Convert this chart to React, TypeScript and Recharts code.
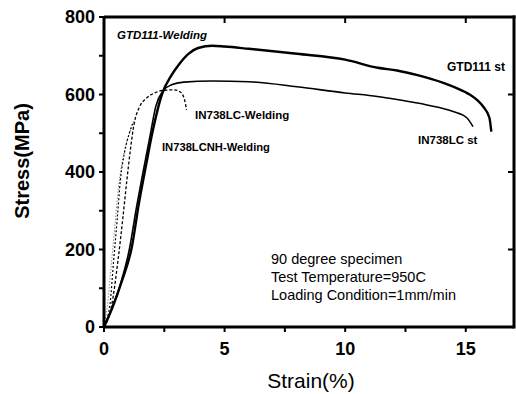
import React from 'react';
import { LineChart, Line, XAxis, YAxis } from 'recharts';

// strain (%) / stress (MPa)
const gtdStStrain = [0, 0.35, 0.75, 1.15, 1.45, 1.75, 2.0, 2.4, 2.8, 3.1, 3.5, 3.9, 4.5, 5, 6, 8, 10, 11.35, 12.15, 13, 14.07, 14.6, 15.16, 15.5, 15.72, 15.98, 16.06];
const gtdStStress = [0, 50, 120, 205, 320, 420, 500, 600, 650, 677, 705, 720, 726, 724, 718, 705, 690, 669, 662, 650, 630, 617, 600, 584, 569, 540, 504];

const inStStrain = [0, 0.3, 0.7, 1.05, 1.35, 1.65, 1.9, 2.15, 2.45, 2.8, 3.3, 4.5, 6, 8, 10, 11.33, 12.15, 13.39, 14.48, 15.04, 15.3];
const inStStress = [0, 45, 115, 200, 310, 410, 490, 570, 610, 625, 632, 635, 633, 620, 604, 595, 587, 573, 556, 540, 517];

const inWeldStrain = [0, 0.3, 0.58, 0.78, 0.95, 1.1, 1.25, 1.45, 1.75, 2.1, 2.5, 2.9, 3.15, 3.3, 3.38, 3.42];
const inWeldStress = [0, 50, 172, 280, 380, 460, 525, 565, 590, 604, 611, 612, 607, 594, 575, 560];

const nhWeldStrain = [0, 0.25, 0.4, 0.55, 0.68, 0.85, 1.05, 1.22];
const nhWeldStress = [0, 60, 172, 280, 379, 450, 500, 530];

const gtdWeldStrain = [0, 0.15, 0.3, 0.45, 0.6, 0.8, 1.0, 1.15];
const gtdWeldStress = [0, 60, 160, 260, 360, 440, 490, 515];

const xTicks = [0, 2.5, 5, 7.5, 10, 12.5, 15];
const yTicks = [0, 100, 200, 300, 400, 500, 600, 700, 800];
const majorX = [0, 5, 10, 15];
const majorY = [0, 200, 400, 600, 800];

const W = 516;
const H = 394;
const M = { top: 17, right: 2, bottom: 37, left: 44 };
const Y_AXIS_W = 60;
const X_AXIS_H = 30;
const PLOT_L = M.left + Y_AXIS_W;
const PLOT_T = M.top;
const PLOT_R = W - M.right;
const PLOT_B = H - M.bottom - X_AXIS_H;

const toPts = (xs: number[], ys: number[]) => xs.map((x, i) => ({ x, y: ys[i] }));

const font = 'Liberation Sans, Arial';

// bottom tick label, plus the matching inward tick on the top frame
const XTick = (props: any) => {
  const { x, y, payload } = props;
  const major = majorX.includes(payload.value);
  return (
    <g>
      {major && payload.value > 0 && (
        <rect x={x - 1} y={PLOT_T} width={2} height={6} fill="#000" />
      )}
      {major && (
        <text x={x} y={y} dy="0.71em" textAnchor="middle" fontFamily={font} fontSize={18} fontWeight="bold" fill="#000">
          {payload.value}
        </text>
      )}
    </g>
  );
};

// left tick label, plus the matching inward tick on the right frame
const YTick = (props: any) => {
  const { x, y, payload } = props;
  const major = majorY.includes(payload.value);
  return (
    <g>
      {major && payload.value > 0 && payload.value < 800 && (
        <rect x={PLOT_R - 6} y={y - 1} width={6} height={2} fill="#000" />
      )}
      {major && (
        <text x={x} y={y} dy="0.355em" textAnchor="end" fontFamily={font} fontSize={18} fontWeight="bold" fill="#000">
          {payload.value}
        </text>
      )}
    </g>
  );
};

export default function App() {
  return (
    <div style={{ position: 'absolute', left: 0, top: 0, width: W, height: H, background: '#fff' }}>
      <div style={{ position: 'absolute', left: 0, top: 0 }}>
        <LineChart width={W} height={H} margin={M}>
          <XAxis
            type="number"
            dataKey="x"
            domain={[0, 17]}
            ticks={xTicks}
            interval={0}
            height={X_AXIS_H}
            allowDataOverflow
            axisLine={{ stroke: '#000', strokeWidth: 3 }}
            tickLine={{ stroke: '#000', strokeWidth: 2 }}
            tickSize={5}
            tickMargin={10}
            tick={<XTick />}
          />
          <YAxis
            type="number"
            domain={[0, 800]}
            ticks={yTicks}
            interval={0}
            width={Y_AXIS_W}
            axisLine={{ stroke: '#000', strokeWidth: 3 }}
            tickLine={{ stroke: '#000', strokeWidth: 2 }}
            tickSize={5}
            tickMargin={4}
            tick={<YTick />}
          />
          <Line data={toPts(gtdWeldStrain, gtdWeldStress)} dataKey="y" type="monotone"
            stroke="#555" strokeWidth={1} strokeDasharray="1 2" dot={false} isAnimationActive={false} />
          <Line data={toPts(nhWeldStrain, nhWeldStress)} dataKey="y" type="monotone"
            stroke="#000" strokeWidth={1.2} strokeDasharray="2 2" dot={false} isAnimationActive={false} />
          <Line data={toPts(inWeldStrain, inWeldStress)} dataKey="y" type="monotone"
            stroke="#000" strokeWidth={1.3} strokeDasharray="3 2" dot={false} isAnimationActive={false} />
          <Line data={toPts(inStStrain, inStStress)} dataKey="y" type="monotone"
            stroke="#000" strokeWidth={1.6} dot={false} isAnimationActive={false} />
          <Line data={toPts(gtdStStrain, gtdStStress)} dataKey="y" type="monotone"
            stroke="#000" strokeWidth={2.4} dot={false} isAnimationActive={false} />
        </LineChart>
      </div>
      <svg width={W} height={H} style={{ position: 'absolute', left: 0, top: 0, pointerEvents: 'none' }}
        fontFamily={font}>
        {/* top and right sides of the frame */}
        <rect x={PLOT_L} y={PLOT_T - 1.5} width={PLOT_R - PLOT_L + 1.5} height={3} fill="#000" />
        <rect x={PLOT_R - 1.5} y={PLOT_T - 1.5} width={3} height={PLOT_B - PLOT_T + 3} fill="#000" />
        <text x={117} y={39} fontSize={11.5} fontWeight="bold" fontStyle="italic">GTD111-Welding</text>
        <text x={195} y={119} fontSize={11.5} fontWeight="bold">IN738LC-Welding</text>
        <text x={162} y={151} fontSize={11.2} fontWeight="bold">IN738LCNH-Welding</text>
        <text x={447} y={71} fontSize={12} fontWeight="bold">GTD111 st</text>
        <text x={418} y={144} fontSize={11.5} fontWeight="bold">IN738LC st</text>
        <text x={271} y={264} fontSize={14.5}>90 degree specimen</text>
        <text x={271} y={282} fontSize={14.5}>Test Temperature=950C</text>
        <text x={271} y={300} fontSize={14.5}>Loading Condition=1mm/min</text>
        <text x={311} y={388} fontSize={21} textAnchor="middle">Strain(%)</text>
        <text x={0} y={0} fontSize={20} fontWeight="bold" textAnchor="middle"
          transform="translate(29,161) rotate(-90)">Stress(MPa)</text>
      </svg>
    </div>
  );
}
